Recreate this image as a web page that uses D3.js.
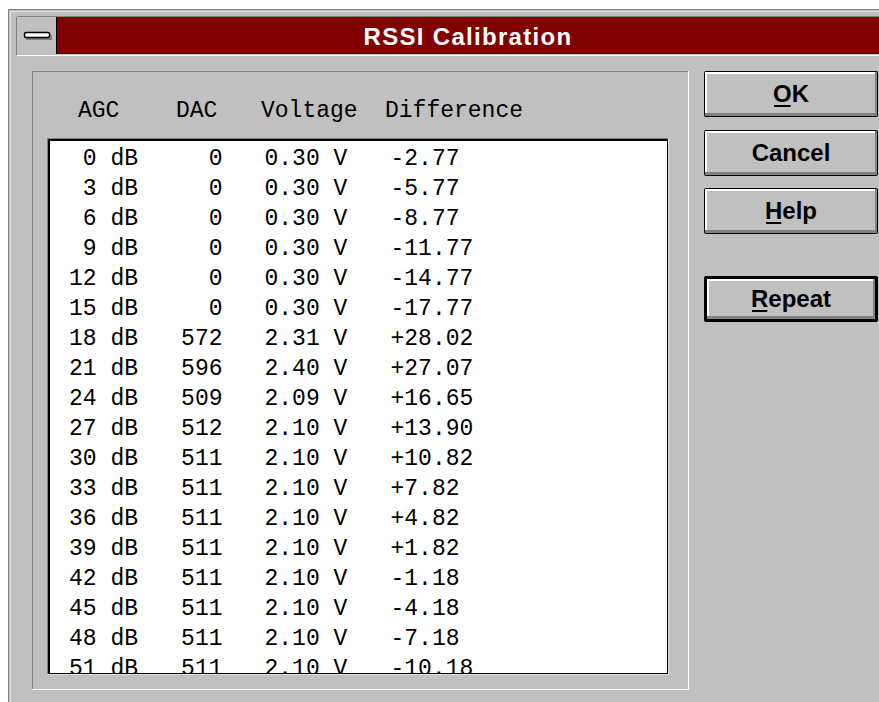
<!DOCTYPE html>
<html>
<head>
<meta charset="utf-8">
<script src="https://cdn.jsdelivr.net/npm/d3@7"></script>
<style>
  html, body { margin: 0; padding: 0; background: #fff; overflow: hidden; }
  svg { display: block; }
</style>
</head>
<body>
<svg id="svg" width="879" height="702"></svg>
<script>
var titleText = "RSSI Calibration";
var headerLabels = ["AGC", "DAC", "Voltage", "Difference"];
var agcValues = [0, 3, 6, 9, 12, 15, 18, 21, 24, 27, 30, 33, 36, 39, 42, 45, 48, 51];
var dacValues = [0, 0, 0, 0, 0, 0, 572, 596, 509, 512, 511, 511, 511, 511, 511, 511, 511, 511];
var voltageValues = [0.30, 0.30, 0.30, 0.30, 0.30, 0.30, 2.31, 2.40, 2.09, 2.10, 2.10, 2.10, 2.10, 2.10, 2.10, 2.10, 2.10, 2.10];
var differenceValues = [-2.77, -5.77, -8.77, -11.77, -14.77, -17.77, 28.02, 27.07, 16.65, 13.90, 10.82, 7.82, 4.82, 1.82, -1.18, -4.18, -7.18, -10.18];
var buttonLabels = ["OK", "Cancel", "Help", "Repeat"];
var buttonMnemonic = [true, false, true, true];

var svg = d3.select("#svg");
var GRAY = "#c0c0c0", DARK = "#808080", MONO = "'Liberation Mono', monospace", SANS = "'Liberation Sans', Arial, sans-serif";

// window frame
svg.append("rect").attr("x", 8).attr("y", 9).attr("width", 880).attr("height", 700).attr("fill", GRAY);
svg.append("path").attr("d", "M8.5,710V9.5H879").attr("stroke", DARK).attr("fill", "none");
svg.append("path").attr("d", "M10.5,710V11.5H879").attr("stroke", "#dfdfdf").attr("fill", "none");

// title bar
svg.append("rect").attr("x", 17).attr("y", 17).attr("width", 870).attr("height", 37).attr("fill", "#800000");
svg.append("rect").attr("x", 17).attr("y", 17).attr("width", 39).attr("height", 37).attr("fill", GRAY);
svg.append("line").attr("x1", 56.5).attr("x2", 56.5).attr("y1", 17).attr("y2", 54).attr("stroke", "#000");
svg.append("line").attr("x1", 17).attr("x2", 879).attr("y1", 55.5).attr("y2", 55.5).attr("stroke", "#fff");
svg.append("line").attr("x1", 17).attr("x2", 879).attr("y1", 16.5).attr("y2", 16.5).attr("stroke", DARK);
svg.append("line").attr("x1", 16.5).attr("x2", 16.5).attr("y1", 17).attr("y2", 55).attr("stroke", DARK);
// system menu dash
svg.append("rect").attr("x", 26).attr("y", 35).attr("width", 26).attr("height", 5).attr("fill", DARK);
svg.append("rect").attr("x", 24.5).attr("y", 32.5).attr("width", 25).attr("height", 5).attr("rx", 1.5)
  .attr("fill", "#fff").attr("stroke", "#000").attr("stroke-width", 1.5);

svg.append("text").attr("x", (57 + 879) / 2).attr("y", 45).attr("text-anchor", "middle")
  .attr("font-family", SANS).attr("font-weight", "bold").attr("font-size", 24)
  .attr("letter-spacing", 1.3).attr("fill", "#fff").text(titleText);

// group box
svg.append("path").attr("d", "M32.5,689V71.5H688").attr("stroke", DARK).attr("fill", "none");
svg.append("path").attr("d", "M688.5,71V689.5H32").attr("stroke", "#fff").attr("fill", "none");

// column headers
var headerX = d3.scaleOrdinal().domain(headerLabels).range([78, 176, 261, 385]);
svg.append("g").selectAll("text").data(headerLabels).enter().append("text")
  .attr("x", function (d) { return headerX(d); })
  .attr("y", 117)
  .attr("font-family", MONO).attr("font-size", 23).attr("fill", "#000")
  .text(function (d) { return d; });

// list box
var lb = { x: 47, y: 138, w: 622, h: 537 };
svg.append("rect").attr("x", lb.x).attr("y", lb.y).attr("width", lb.w).attr("height", lb.h).attr("fill", "#dfdfdf");
svg.append("rect").attr("x", lb.x).attr("y", lb.y).attr("width", lb.w - 1).attr("height", lb.h - 1).attr("fill", DARK);
svg.append("rect").attr("x", lb.x + 1).attr("y", lb.y + 1).attr("width", lb.w - 2).attr("height", lb.h - 2).attr("fill", "#000");
svg.append("rect").attr("x", lb.x + 3).attr("y", lb.y + 3).attr("width", lb.w - 5).attr("height", lb.h - 5).attr("fill", "#fff");

svg.append("clipPath").attr("id", "lbclip").append("rect")
  .attr("x", lb.x + 3).attr("y", lb.y + 3).attr("width", lb.w - 5).attr("height", lb.h - 5);

var rowScale = d3.scaleBand().domain(d3.range(agcValues.length)).range([142, 142 + 30 * agcValues.length]);
var charX = d3.scaleLinear().domain([0, 1]).range([68.5, 82.5]);
var fmtV = d3.format(".2f");
var fmtD = function (v) { return d3.format("+.2f")(v).replace("\u2212", "-"); };

var rows = svg.append("g").attr("clip-path", "url(#lbclip)")
  .attr("font-family", MONO).attr("font-size", 23).attr("fill", "#000")
  .selectAll("g").data(agcValues).enter().append("g")
  .attr("transform", function (d, i) { return "translate(0," + (rowScale(i) + 23) + ")"; });

rows.append("text").attr("x", charX(2)).attr("text-anchor", "end").text(function (d) { return d; });
rows.append("text").attr("x", charX(3)).text("dB");
rows.append("text").attr("x", charX(11)).attr("text-anchor", "end").text(function (d, i) { return dacValues[i]; });
rows.append("text").attr("x", charX(14)).text(function (d, i) { return fmtV(voltageValues[i]) + " V"; });
rows.append("text").attr("x", charX(23)).text(function (d, i) { return fmtD(differenceValues[i]); });

// buttons
var buttonSlot = [0, 1, 2, 3.5];
var buttonY = d3.scaleLinear().domain([0, 1]).range([71, 129.5]);
var bx = 704, bw = 174, bh = 46;

var btn = svg.append("g").selectAll("g").data(buttonLabels).enter().append("g")
  .attr("transform", function (d, i) { return "translate(" + bx + "," + Math.round(buttonY(buttonSlot[i])) + ")"; });

btn.each(function (d, i) {
  var g = d3.select(this);
  var b = d === "Repeat" ? 3 : 1;
  g.append("rect").attr("width", bw).attr("height", bh).attr("rx", 2).attr("fill", "#000");
  g.append("rect").attr("x", b).attr("y", b).attr("width", bw - 2 * b).attr("height", bh - 2 * b).attr("fill", DARK);
  g.append("rect").attr("x", b).attr("y", b).attr("width", bw - 2 * b - 2).attr("height", bh - 2 * b - 3).attr("fill", "#fff");
  g.append("rect").attr("x", b + 2).attr("y", b + 2).attr("width", bw - 2 * b - 4).attr("height", bh - 2 * b - 5).attr("fill", GRAY);
  var t = g.append("text").attr("x", bw / 2).attr("y", bh / 2 + 8)
    .attr("text-anchor", "middle").attr("font-family", SANS).attr("font-weight", "bold")
    .attr("font-size", 24).attr("fill", "#000").text(d);
  if (buttonMnemonic[i]) {
    var ext = t.node().getExtentOfChar(0);
    g.append("rect").attr("x", ext.x + 1).attr("y", bh / 2 + 11).attr("width", ext.width - 2).attr("height", 2).attr("fill", "#000");
  }
});
</script>
</body>
</html>
